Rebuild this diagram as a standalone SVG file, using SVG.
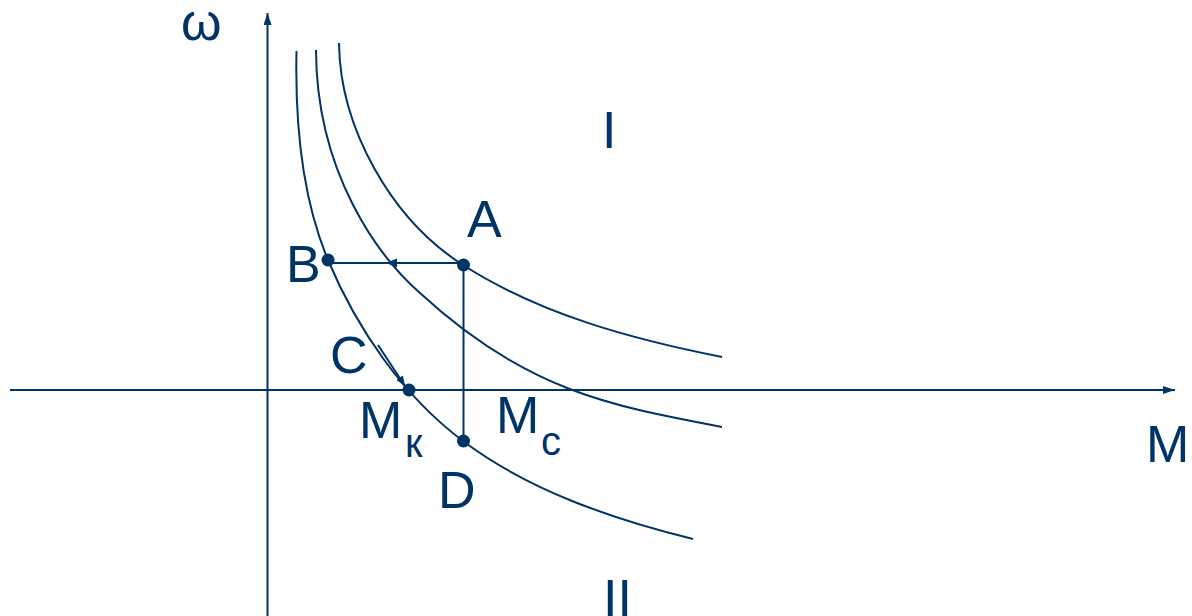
<svg xmlns="http://www.w3.org/2000/svg" width="1192" height="616" viewBox="0 0 1192 616">
<defs>
<style>
.ax{stroke:#003366;stroke-width:2;fill:none}
.cv{stroke:#003366;stroke-width:2;fill:none}
.ln{stroke:#003366;stroke-width:2;fill:none}
.dot{fill:#003366}
.t{font-family:"Liberation Sans",Arial,sans-serif;font-size:52px;fill:#003366}
.s{font-family:"Liberation Sans",Arial,sans-serif;font-size:40px;fill:#003366}
</style>
<marker id="ah" viewBox="0 0 12 8" refX="12" refY="4" markerWidth="12" markerHeight="8" markerUnits="userSpaceOnUse" orient="auto">
<path d="M0,0 L12,4 L0,8 Z" fill="#003366"/>
</marker>
<marker id="ahs" viewBox="0 0 10 8" refX="10" refY="4" markerWidth="10" markerHeight="8" markerUnits="userSpaceOnUse" orient="auto">
<path d="M0,0 L10,4 L0,8 Z" fill="#003366"/>
</marker>
</defs>
<rect width="1192" height="616" fill="#ffffff"/>
<g id="axes">
<line class="ax" x1="267.5" y1="616" x2="267.5" y2="13" marker-end="url(#ah)"/>
<line class="ax" x1="10" y1="390" x2="1175" y2="390" marker-end="url(#ah)"/>
</g>
<g id="curves">
<path class="cv" d="M296.5,51 C295,121 300.9,195.5 328,260 C357,329 403,396 463,441 C529.4,490.8 612.4,519.1 693,539"/>
<path class="cv" d="M316,50 C316.5,175 380,258 420,293 C525,390 610,406 722,427"/>
<path class="cv" d="M339,43 C340,128 391.3,219.2 463,265 C540.6,314.6 631.8,339.1 722,357"/>
</g>
<g id="connectors">
<line class="ln" x1="463.5" y1="263" x2="328" y2="263"/>
<path d="M386,263 L397,258.5 L397,267.5 Z" fill="#003366"/>
<line class="ln" x1="463.5" y1="265" x2="463.5" y2="441"/>
<line class="ln" x1="378" y1="345" x2="405" y2="386" marker-end="url(#ahs)"/>
</g>
<g id="points">
<circle id="pA" class="dot" cx="463.5" cy="265" r="6.5"/>
<circle id="pB" class="dot" cx="328" cy="260" r="6.5"/>
<circle id="pMk" class="dot" cx="409" cy="390" r="6.5"/>
<circle id="pD" class="dot" cx="463.5" cy="441" r="6.5"/>
</g>
<g id="labels">
<text class="t" x="181" y="40">ω</text>
<text class="t" x="1146" y="462">M</text>
<text class="t" x="467" y="237">A</text>
<text class="t" x="286" y="282">B</text>
<text class="t" x="330" y="373">C</text>
<text class="t" x="438" y="508">D</text>
<text class="t" x="359" y="438">M</text>
<text class="s" x="405" y="457">к</text>
<text class="t" x="496" y="433">M</text>
<text class="s" x="541" y="455">с</text>
<text class="t" x="602" y="148">I</text>
<text class="t" x="603" y="616">II</text>
</g>
</svg>
